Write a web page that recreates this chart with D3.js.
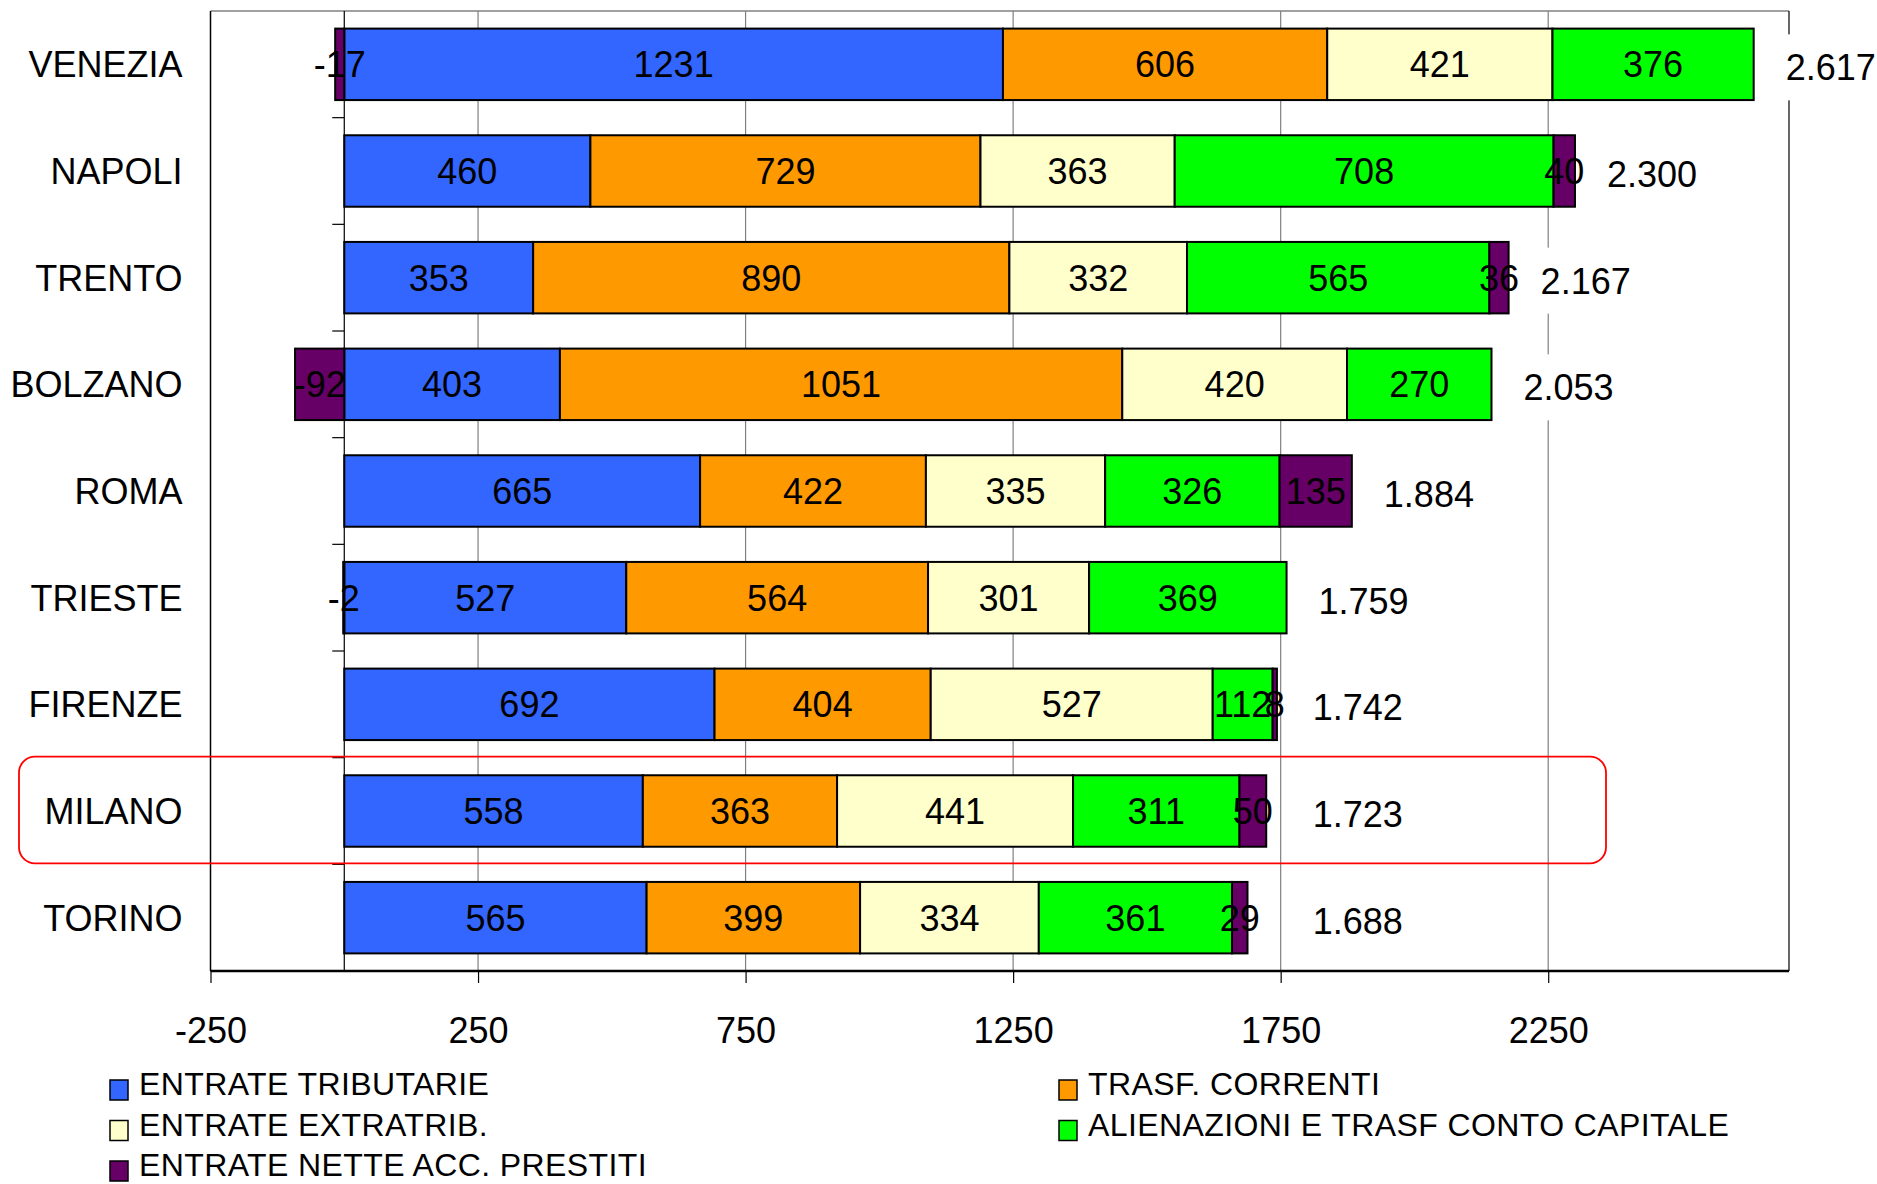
<!DOCTYPE html>
<html>
<head>
<meta charset="utf-8">
<script src="https://cdn.jsdelivr.net/npm/d3@7"></script>
<style>
  body { margin: 0; background: #fff; }
  text { font-family: "Liberation Sans", Arial, sans-serif; fill: #000; }
</style>
</head>
<body>
<div id="chart"></div>
<script>
var cities = ["VENEZIA", "NAPOLI", "TRENTO", "BOLZANO", "ROMA", "TRIESTE", "FIRENZE", "MILANO", "TORINO"];
var seriesNames = ["ENTRATE TRIBUTARIE", "TRASF. CORRENTI", "ENTRATE EXTRATRIB.",
                   "ALIENAZIONI E TRASF CONTO CAPITALE", "ENTRATE NETTE ACC. PRESTITI"];
var tributarie  = [1231, 460, 353, 403, 665, 527, 692, 558, 565];
var correnti    = [606, 729, 890, 1051, 422, 564, 404, 363, 399];
var extratrib   = [421, 363, 332, 420, 335, 301, 527, 441, 334];
var alienazioni = [376, 708, 565, 270, 326, 369, 112, 311, 361];
var prestiti    = [-17, 40, 36, -92, 135, -2, 8, 50, 29];
var totali      = [2617, 2300, 2167, 2053, 1884, 1759, 1742, 1723, 1688];
var xTicks      = [-250, 250, 750, 1250, 1750, 2250];
var colors      = ["#3366FF", "#FF9900", "#FFFFCC", "#00FF00", "#660066"];
var highlighted = "MILANO";

var W = 1877, H = 1184;
var plotL = 210.5, plotR = 1789, plotT = 11, plotB = 971;

var svg = d3.select("#chart")
            .append("svg")
            .attr("width", W)
            .attr("height", H)
            .style("background", "#fff");

var keys = ["s0", "s1", "s2", "s3", "s4"];
var rows = cities.map(function(c, i) {
    return {city: c, s0: tributarie[i], s1: correnti[i], s2: extratrib[i],
            s3: alienazioni[i], s4: prestiti[i], total: totali[i]};
});

var x = d3.scaleLinear().domain([-250, 2700]).range([plotL, plotR]);
var y = d3.scaleBand().domain(cities).range([plotT, plotB])
          .paddingInner(0.33).paddingOuter(0.165);
var step = y.step();
var gap = step * y.paddingInner() / 2;

var it = d3.formatLocale({decimal: ",", thousands: ".", grouping: [3], currency: ["", "€"], minus: "-"});
var fmtTot = it.format(",");

// gridlines
svg.append("g").selectAll("line")
    .data(xTicks.slice(1))
    .enter().append("line")
    .attr("x1", function(d) { return x(d); }).attr("x2", function(d) { return x(d); })
    .attr("y1", plotT).attr("y2", plotB)
    .attr("stroke", "#808080").attr("stroke-width", 1.2);

// plot frame
svg.append("line").attr("x1", plotL).attr("x2", plotR).attr("y1", plotT).attr("y2", plotT)
    .attr("stroke", "#808080").attr("stroke-width", 1.5);
svg.append("line").attr("x1", plotR).attr("x2", plotR).attr("y1", plotT).attr("y2", plotB)
    .attr("stroke", "#000").attr("stroke-width", 1.2);
svg.append("line").attr("x1", plotL).attr("x2", plotL).attr("y1", plotT).attr("y2", plotB)
    .attr("stroke", "#000").attr("stroke-width", 1.5);

// category axis at zero, ticks on band boundaries
svg.append("line").attr("x1", x(0)).attr("x2", x(0)).attr("y1", plotT).attr("y2", plotB)
    .attr("stroke", "#000").attr("stroke-width", 1.2);
svg.append("g").selectAll("line")
    .data(cities.slice(1))
    .enter().append("line")
    .attr("x1", x(0) - 12).attr("x2", x(0))
    .attr("y1", function(d) { return y(d) - gap; })
    .attr("y2", function(d) { return y(d) - gap; })
    .attr("stroke", "#000").attr("stroke-width", 1.2);

// x axis
var xAxis = svg.append("g")
    .attr("transform", "translate(0," + plotB + ")")
    .call(d3.axisBottom(x).tickValues(xTicks).tickSize(12).tickPadding(34)
            .tickFormat(function(d) { return String(d); }));
xAxis.select(".domain").remove();
xAxis.selectAll(".tick line").attr("stroke", "#000").attr("stroke-width", 1.2);
xAxis.selectAll("text").attr("font-size", "36px")
    .attr("font-family", "Liberation Sans, Arial, sans-serif").attr("fill", "#000");
svg.append("line").attr("x1", plotL).attr("x2", plotR).attr("y1", plotB).attr("y2", plotB)
    .attr("stroke", "#000").attr("stroke-width", 2.5);

// category labels
var yAxis = svg.append("g")
    .attr("transform", "translate(" + (plotL - 28) + ",0)")
    .call(d3.axisLeft(y).tickSize(0).tickPadding(0));
yAxis.select(".domain").remove();
yAxis.selectAll("text").attr("font-size", "36px").attr("dy", "0.36em")
    .attr("font-family", "Liberation Sans, Arial, sans-serif").attr("fill", "#000");

// stacked bars
var stack = d3.stack().keys(keys).offset(d3.stackOffsetDiverging);
var layers = stack(rows);

var groups = svg.append("g").selectAll("g.layer")
    .data(layers)
    .enter().append("g")
    .attr("class", "layer")
    .attr("fill", function(d, i) { return colors[i]; });

groups.selectAll("rect")
    .data(function(d) { return d; })
    .enter().append("rect")
    .attr("x", function(d) { return x(Math.min(d[0], d[1])); })
    .attr("y", function(d) { return y(d.data.city); })
    .attr("width", function(d) { return Math.abs(x(d[1]) - x(d[0])); })
    .attr("height", y.bandwidth())
    .attr("stroke", "#000")
    .attr("stroke-width", 2);

var labels = svg.append("g").selectAll("g")
    .data(layers)
    .enter().append("g");
labels.selectAll("text")
    .data(function(d) { return d; })
    .enter().append("text")
    .attr("x", function(d) { return x((d[0] + d[1]) / 2); })
    .attr("y", function(d) { return y(d.data.city) + y.bandwidth() / 2; })
    .attr("dy", "0.36em")
    .attr("text-anchor", "middle")
    .attr("font-size", "36px")
    .text(function(d) {
        var v = d[1] - d[0];
        if (v === 0) return "";
        return String(d[1] > 0 ? v : -v);
    });

// totals with white boxes
var totG = svg.append("g").selectAll("g")
    .data(rows)
    .enter().append("g")
    .attr("transform", function(d) {
        var end = d3.sum(keys, function(k) { return Math.max(0, d[k]); });
        return "translate(" + (x(Math.max(end, 1750)) + 32) + "," + (y(d.city) + y.bandwidth() / 2 + 3) + ")";
    });
totG.append("rect")
    .attr("x", -10).attr("y", -33).attr("width", 108).attr("height", 66)
    .attr("fill", "#fff");
totG.append("text")
    .attr("dy", "0.36em")
    .attr("font-size", "36px")
    .text(function(d) { return fmtTot(d.total); });

// highlight box
svg.append("rect")
    .attr("x", 19)
    .attr("y", y(highlighted) - gap - 1)
    .attr("width", 1587)
    .attr("height", step)
    .attr("rx", 16).attr("ry", 16)
    .attr("fill", "none")
    .attr("stroke", "#FF0000")
    .attr("stroke-width", 1.8);

// legend
var legend = svg.append("g").selectAll("g")
    .data(seriesNames)
    .enter().append("g")
    .attr("transform", function(d, i) {
        return "translate(" + (i % 2 === 0 ? 110 : 1059) + "," + (1095 + Math.floor(i / 2) * 40.5) + ")";
    });
legend.append("rect")
    .attr("x", 0).attr("y", -15).attr("width", 18).attr("height", 20)
    .attr("fill", function(d, i) { return colors[i]; })
    .attr("stroke", "#000").attr("stroke-width", 1.5);
legend.append("text")
    .attr("x", 29)
    .attr("font-size", "32px")
    .attr("letter-spacing", "0.4px")
    .text(function(d) { return d; });
</script>
</body>
</html>
